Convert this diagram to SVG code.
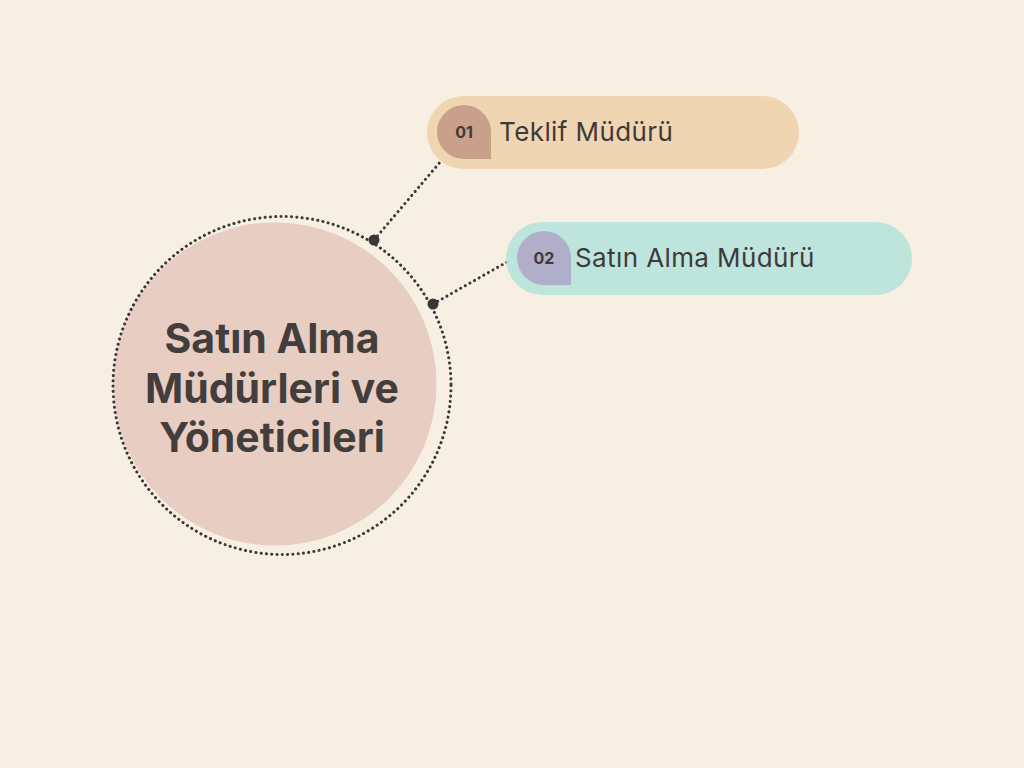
<svg xmlns="http://www.w3.org/2000/svg" width="1024" height="768" viewBox="0 0 1024 768">
<style>
.conn{fill:none;stroke:#3b3736;stroke-width:3;stroke-dasharray:0.1 5.2;stroke-linecap:round}
.dot{fill:#3b3736}
.lbl{font-family:"Inter","Liberation Sans",sans-serif;font-size:26px;letter-spacing:0.4px;fill:#3f3a39}
.num{font-family:"Inter","Liberation Sans",sans-serif;font-size:16px;font-weight:700;fill:#3f3a39;text-anchor:middle}
.title{font-family:"Inter","Liberation Sans",sans-serif;font-size:41px;font-weight:700;fill:#433d3c;text-anchor:middle}
</style>
<rect width="1024" height="768" fill="#F7EFE2"/>
<g id="center">
<circle cx="275" cy="384" r="161.5" fill="#E8CDC2"/>
<circle cx="282" cy="385.5" r="169" class="conn" stroke-width="3"/>
<text class="title" x="272" y="353">Satın Alma</text>
<text class="title" x="272" y="403">Müdürleri ve</text>
<text class="title" x="272" y="452">Yöneticileri</text>
</g>
<g id="connectors">
<path class="conn" d="M374 240 L441 161"/>
<path class="conn" d="M433 304 L507 262"/>
<circle class="dot" cx="374" cy="240" r="5.5"/>
<circle class="dot" cx="433" cy="304" r="5.5"/>
</g>
<g id="node1">
<rect x="427" y="96" width="372" height="73" rx="36.5" fill="#EFD5B1"/>
<path d="M437 132 A27 27 0 0 1 491 132 L491 159 L464 159 A27 27 0 0 1 437 132 Z" fill="#C9A089"/>
<text class="num" x="464" y="138">01</text>
<text class="lbl" x="499" y="141">Teklif Müdürü</text>
</g>
<g id="node2">
<rect x="506" y="222" width="406" height="73" rx="36.5" fill="#BDE5DC"/>
<path d="M517 258 A27 27 0 0 1 571 258 L571 285 L544 285 A27 27 0 0 1 517 258 Z" fill="#B1AECB"/>
<text class="num" x="544" y="264">02</text>
<text class="lbl" x="575" y="267">Satın Alma Müdürü</text>
</g>
</svg>
